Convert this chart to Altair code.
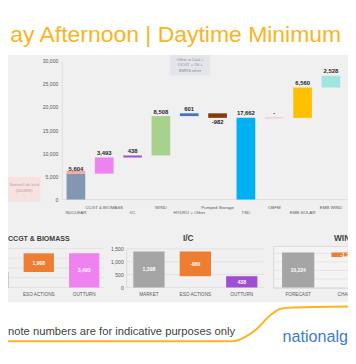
import altair as alt
import pandas as pd

# ---------------- text ----------------
TITLE = "ay Afternoon | Daytime Minimum"
NOTE = "note numbers are for indicative purposes only"
LOGO = "nationalgrid"
OTHER_NOTE = ["Other = Coal +", "OCGT + Oil +", "BMRS other"]
SIZEWELL_NOTE = ["Sizewell de load", "(660MW)"]

# ---------------- main waterfall ----------------
MAIN_CATS = ["NUCLEAR", "CCGT & BIOMASS", "I/C", "WIND", "HYDRO + Other",
             "Pumped Storage", "TSD", "OBFM", "EMB SOLAR", "EMB WIND"]
MAIN_VALUES = [5604, 3493, 438, 8508, 601, -982, 17662, 0, 6560, 2528]
MAIN_TOTAL = [False, False, False, False, False, False, True, False, False, False]
MAIN_LABELS = ["5,604", "3,493", "438", "8,508", "601", "-982", "17,662", "-", "6,560", "2,528"]
MAIN_LABEL_ROW = [2, 1, 2, 1, 2, 1, 2, 1, 2, 1]
MAIN_TICKS = [0, 5000, 10000, 15000, 20000, 25000, 30000]
NUCLEAR_DELOAD = 660

# ---------------- small panels ----------------
CCGT_CATS = ["MARKET", "ESO ACTIONS", "OUTTURN"]
CCGT_VALUES = [1585, 1908, 3493]
CCGT_LABELS = ["1,585", "1,908", "3,493"]
CCGT_GRID = [0, 1000, 2000, 3000, 4000]

IC_CATS = ["MARKET", "ESO ACTIONS", "OUTTURN"]
IC_VALUES = [1398, -960, 438]
IC_LABELS = ["1,398", "-960", "438"]
IC_TICKS = [0, 500, 1000, 1500]

WIND_CATS = ["FORECAST", "CHANGE"]
WIND_VALUES = [10224, -1262]
WIND_LABELS = ["10,224", "-1,262"]
WIND_GRID = [0, 2500, 5000, 7500, 10000]

# decorative yellow swoosh (slide coordinates)
SWOOSH_X = [0, 238, 250, 262, 277, 288, 300, 356]
SWOOSH_Y = [345, 345, 341, 333, 318, 311.5, 310.5, 309.5]

# ---------------- styles ----------------
MAIN_COLORS = ["#8497B0", "#EE82EE", "#9E4FD6", "#A9D18E", "#4472C4",
               "#843C0C", "#00B0F0", "#F4B6B0", "#FFC000", "#A0E6E0"]
CCGT_COLORS = ["#A5A5A5", "#ED7D31", "#EE82EE"]
IC_COLORS = ["#A5A5A5", "#ED7D31", "#9E4FD6"]
WIND_COLORS = ["#A5A5A5", "#ED7D31"]
FONT = "Liberation Sans"
W, H = 348, 344

# ---------------- data frames ----------------
rows, run = [], 0
for c, v, t, lab, r in zip(MAIN_CATS, MAIN_VALUES, MAIN_TOTAL, MAIN_LABELS, MAIN_LABEL_ROW):
    if t:
        s, e = 0, v
    else:
        s, e = run, run + v
    run = e
    rows.append(dict(cat=c, start=s, end=e, top=max(s, e), bottom=min(s, e),
                     label=lab, row=r, neg=v < 0, zero=v == 0))
main_df = pd.DataFrame(rows)
deload_df = pd.DataFrame([dict(cat="NUCLEAR", start=MAIN_VALUES[0],
                               end=MAIN_VALUES[0] + NUCLEAR_DELOAD)])


def panel_df(cats, values, labels, total_last=True):
    out, run = [], 0
    for i, (c, v, lab) in enumerate(zip(cats, values, labels)):
        if i == 0 or (total_last and i == len(cats) - 1 and len(cats) > 2):
            s, e = 0, v
        else:
            s, e = run, run + v
        run = e
        out.append(dict(cat=c, start=s, end=e, mid=(s + e) / 2, label=lab))
    return pd.DataFrame(out)


ccgt_df = panel_df(CCGT_CATS, CCGT_VALUES, CCGT_LABELS)
ic_df = panel_df(IC_CATS, IC_VALUES, IC_LABELS)
wind_df = panel_df(WIND_CATS, WIND_VALUES, WIND_LABELS)

# ---------------- scales (explicit pixel ranges) ----------------
main_x = alt.Scale(domain=MAIN_CATS, range=[55, 345], paddingInner=0.34, paddingOuter=0.17)
main_y = alt.Scale(domain=[0, 30000], range=[192, 50], nice=False, zero=False)
row_y = alt.Scale(type="point", domain=[1, 2], range=[200.3, 205.3], padding=0)

ccgt_x = alt.Scale(domain=CCGT_CATS, range=[-38.25, 101.25], paddingInner=0.333, paddingOuter=0.1667)
ccgt_y = alt.Scale(domain=[0, 4000], range=[282, 242], nice=False)
ic_x = alt.Scale(domain=IC_CATS, range=[120.5, 263], paddingInner=0.326, paddingOuter=0.163)
ic_y = alt.Scale(domain=[0, 1500], range=[282, 242.5], nice=False)
wind_x = alt.Scale(domain=WIND_CATS, range=[271.75, 372.75], paddingInner=0.347, paddingOuter=0.1735)
wind_y = alt.Scale(domain=[0, 12500], range=[282, 238.35], nice=False)

deco_x = alt.Scale(domain=[0, 356], range=[-8, 348])
deco_y = alt.Scale(domain=[0, 364], range=[-8, 356])

LABEL_EXPR = "format(datum.value, ',.0f')"

layers = []

# grey slide panel
layers.append(alt.Chart(pd.DataFrame({"a": [0]})).mark_rect(color="#F0F0F0").encode(
    x=alt.value(0), x2=alt.value(W), y=alt.value(44), y2=alt.value(297)))

# annotation boxes
layers.append(alt.Chart(pd.DataFrame({"a": [0]})).mark_rect(color="#E3E5EA").encode(
    x=alt.value(166), x2=alt.value(207), y=alt.value(44), y2=alt.value(65)))
layers.append(alt.Chart(pd.DataFrame({"t": OTHER_NOTE, "i": [0, 1, 2]})).mark_text(
    font=FONT, fontSize=4.2, color="#8C8C8C").encode(
    x=alt.value(186.5),
    y=alt.Y("i:O", scale=alt.Scale(type="point", domain=[0, 1, 2], range=[48.7, 60.3], padding=0), axis=None),
    text="t:N"))
layers.append(alt.Chart(pd.DataFrame({"a": [0]})).mark_rect(color="#F7E2E2").encode(
    x=alt.value(0), x2=alt.value(33), y=alt.value(169), y2=alt.value(194)))
layers.append(alt.Chart(pd.DataFrame({"t": SIZEWELL_NOTE, "i": [0, 1]})).mark_text(
    font=FONT, fontSize=4.2, color="#C79B9B").encode(
    x=alt.value(16.5),
    y=alt.Y("i:O", scale=alt.Scale(type="point", domain=[0, 1], range=[177, 183.5], padding=0), axis=None),
    text="t:N"))

# main baseline
layers.append(alt.Chart(pd.DataFrame({"v": [0]})).mark_rule(color="#D9D9D9", strokeWidth=0.8).encode(
    y=alt.Y("v:Q", scale=main_y, axis=None), x=alt.value(55), x2=alt.value(W)))

# main bars with y axis
layers.append(alt.Chart(main_df).mark_bar().encode(
    x=alt.X("cat:N", scale=main_x, axis=None),
    y=alt.Y("start:Q", scale=main_y,
            axis=alt.Axis(orient="left", offset=-55, values=MAIN_TICKS, labelExpr=LABEL_EXPR,
                          ticks=False, tickSize=0, labelPadding=4, labelFontSize=5.2,
                          labelColor="#595959", labelFont=FONT, domainColor="#D9D9D9",
                          domainWidth=0.8, grid=False, title=None, zindex=1)),
    y2="end:Q",
    color=alt.Color("cat:N", scale=alt.Scale(domain=MAIN_CATS, range=MAIN_COLORS), legend=None)))
layers.append(alt.Chart(deload_df).mark_bar(color="#F4A9A0").encode(
    x=alt.X("cat:N", scale=main_x, axis=None),
    y=alt.Y("start:Q", scale=main_y, axis=None), y2="end:Q"))
layers.append(alt.Chart(main_df[main_df["zero"]]).mark_tick(thickness=1.2, size=19, color="#F4B6B0").encode(
    x=alt.X("cat:N", scale=main_x, axis=None),
    y=alt.Y("end:Q", scale=main_y, axis=None)))

# main value labels
layers.append(alt.Chart(main_df[~main_df["neg"]]).mark_text(
    baseline="bottom", dy=-1.5, font=FONT, fontSize=6, fontWeight="bold", color="#262626").encode(
    x=alt.X("cat:N", scale=main_x, axis=None),
    y=alt.Y("top:Q", scale=main_y, axis=None), text="label:N"))
layers.append(alt.Chart(main_df[main_df["neg"]]).mark_text(
    baseline="top", dy=1.5, font=FONT, fontSize=6, fontWeight="bold", color="#262626").encode(
    x=alt.X("cat:N", scale=main_x, axis=None),
    y=alt.Y("bottom:Q", scale=main_y, axis=None), text="label:N"))

# main category labels (staggered)
layers.append(alt.Chart(main_df).mark_text(font=FONT, fontSize=4.5, color="#595959").encode(
    x=alt.X("cat:N", scale=main_x, axis=None),
    y=alt.Y("row:O", scale=row_y, axis=None), text="cat:N"))


def panel_layers(df, xs, ys, cats, colors, grid, gx0, gx1, yaxis=None):
    out = []
    out.append(alt.Chart(pd.DataFrame({"v": grid})).mark_rule(color="#DCDCDC", strokeWidth=0.7).encode(
        y=alt.Y("v:Q", scale=ys, axis=None), x=alt.value(gx0), x2=alt.value(gx1)))
    out.append(alt.Chart(df).mark_bar().encode(
        x=alt.X("cat:N", scale=xs, axis=None),
        y=alt.Y("start:Q", scale=ys, axis=yaxis), y2="end:Q",
        color=alt.Color("cat:N", scale=alt.Scale(domain=cats, range=colors), legend=None)))
    out.append(alt.Chart(df).mark_text(font=FONT, fontSize=5.2, fontWeight="bold", color="white").encode(
        x=alt.X("cat:N", scale=xs, axis=None),
        y=alt.Y("mid:Q", scale=ys, axis=None), text="label:N"))
    out.append(alt.Chart(df).mark_text(font=FONT, fontSize=4.8, color="#595959").encode(
        x=alt.X("cat:N", scale=xs, axis=None), y=alt.value(289.7), text="cat:N"))
    return out


# WIND box
layers.append(alt.Chart(pd.DataFrame({"a": [0]})).mark_rect(
    fill="#F4F4F4", stroke="#D6D6D6", strokeWidth=0.8).encode(
    x=alt.value(272), x2=alt.value(360), y=alt.value(240), y2=alt.value(283)))

layers += panel_layers(ccgt_df, ccgt_x, ccgt_y, CCGT_CATS, CCGT_COLORS, CCGT_GRID, 0, 98)
ic_axis = alt.Axis(orient="left", offset=-121, values=IC_TICKS, labelExpr=LABEL_EXPR, ticks=False,
                   tickSize=0, labelPadding=3, labelFontSize=5.2, labelColor="#595959",
                   labelFont=FONT, domainColor="#D9D9D9", domainWidth=0.8, grid=False,
                   title=None, zindex=1)
layers += panel_layers(ic_df, ic_x, ic_y, IC_CATS, IC_COLORS, IC_TICKS, 121, 262, yaxis=ic_axis)
layers += panel_layers(wind_df, wind_x, wind_y, WIND_CATS, WIND_COLORS, WIND_GRID, 272, W)

# panel titles
PANEL_TITLES = ["CCGT & BIOMASS", "I/C", "WIND"]
PANEL_TITLE_SIZE = [7.2, 8.5, 8.5]
for t, xv, al, fs in zip(PANEL_TITLES, [0, 184.5, 333.7], ["left", "center", "left"], PANEL_TITLE_SIZE):
    layers.append(alt.Chart(pd.DataFrame({"t": [t]})).mark_text(
        font=FONT, fontSize=fs, fontWeight="bold", color="#404040", align=al, baseline="alphabetic").encode(
        x=alt.value(xv), y=alt.value(234.3), text="t:N"))

# title
layers.append(alt.Chart(pd.DataFrame({"t": [TITLE]})).mark_text(
    font=FONT, fontSize=23.5, color="#FBB41E", align="right", baseline="alphabetic").encode(
    x=alt.value(341), y=alt.value(31), text="t:N"))

# footer
layers.append(alt.Chart(pd.DataFrame({"x": SWOOSH_X, "y": SWOOSH_Y})).mark_line(
    color="#FBB41E", strokeWidth=2, interpolate="monotone").encode(
    x=alt.X("x:Q", scale=deco_x, axis=None), y=alt.Y("y:Q", scale=deco_y, axis=None)))
layers.append(alt.Chart(pd.DataFrame({"t": [NOTE]})).mark_text(
    font=FONT, fontSize=11.5, color="#3F3F3F", align="left", baseline="alphabetic").encode(
    x=alt.value(0), y=alt.value(331), text="t:N"))
layers.append(alt.Chart(pd.DataFrame({"t": [LOGO]})).mark_text(
    font=FONT, fontSize=16.5, color="#3D7CC9", align="left", baseline="alphabetic").encode(
    x=alt.value(281), y=alt.value(338), text="t:N"))

chart = alt.layer(*layers).resolve_scale(
    x="independent", y="independent", color="independent"
).properties(
    width=W, height=H, padding=0, autosize=alt.AutoSizeParams(type="none"), background="white"
).configure_view(stroke=None)

chart.save("out.html", embed_options={"renderer": "svg", "actions": False})
